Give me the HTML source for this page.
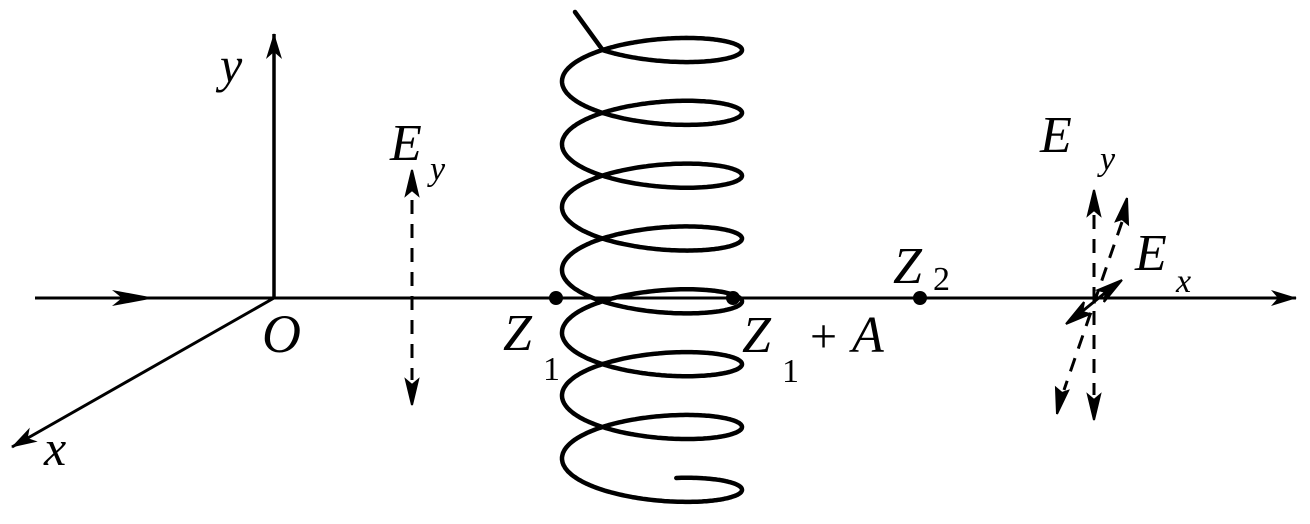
<!DOCTYPE html>
<html><head><meta charset="utf-8"><style>
html,body{margin:0;padding:0;background:#fff;}
svg{display:block}
text{font-family:"Liberation Serif",serif;font-style:italic;fill:#000}
</style></head><body>
<svg id="s" width="1310" height="524" viewBox="0 0 1310 524" xmlns="http://www.w3.org/2000/svg">
<defs>
<marker id="big" markerWidth="26" markerHeight="16" refX="25" refY="8" orient="auto" markerUnits="userSpaceOnUse" viewBox="0 0 26 16"><path d="M0,0 L26,8 L0,16 L7,8 Z" fill="#000"/></marker>
</defs>
<line x1="35" y1="298" x2="1296" y2="298" stroke="#000" stroke-width="3" marker-end="url(#big)"/>
<path d="M112,290 L155,298 L112,306 L122,298 Z" fill="#000"/>
<line x1="274" y1="298" x2="274" y2="34" stroke="#000" stroke-width="3.5" marker-end="url(#big)"/>
<line x1="274" y1="298" x2="12" y2="447" stroke="#000" stroke-width="3" marker-end="url(#big)"/>
<text x="220" y="82" font-size="50">y</text>
<text x="262" y="352" font-size="54">O</text>
<text x="44" y="465" font-size="50">x</text>
<text x="390" y="160" font-size="52">E</text>
<text x="430" y="180" font-size="34">y</text>
<line x1="412" y1="200" x2="412" y2="380" stroke="#000" stroke-width="3" stroke-dasharray="14,10"/>
<path d="M412,170 L418,195 L412,190 L406,195 Z M412,405 L418,380 L412,385 L406,380 Z" fill="#000" stroke="#000" stroke-width="2"/>
<path id="helix" d="" fill="none" stroke="#000" stroke-width="4.5" stroke-linecap="round" stroke-linejoin="round"/>
<circle cx="556" cy="298" r="7"/>
<circle cx="733" cy="298" r="7"/>
<circle cx="920" cy="298" r="7"/>
<text x="503" y="350" font-size="52">Z</text>
<text x="543" y="380" font-size="34" style="font-style:normal">1</text>
<text x="742" y="352" font-size="52">Z</text>
<text x="782" y="382" font-size="34" style="font-style:normal">1</text>
<text x="810" y="352" font-size="48" style="font-style:normal">+</text>
<text x="852" y="352" font-size="52">A</text>
<text x="893" y="283" font-size="52">Z</text>
<text x="933" y="290" font-size="34" style="font-style:normal">2</text>
<text x="1040" y="152" font-size="52">E</text>
<text x="1100" y="170" font-size="34">y</text>
<line x1="1094" y1="215" x2="1094" y2="395" stroke="#000" stroke-width="3" stroke-dasharray="14,10"/>
<path d="M1094,190 L1100,215 L1094,210 L1088,215 Z M1094,420 L1100,395 L1094,400 L1088,395 Z" fill="#000" stroke="#000" stroke-width="2"/>
<line x1="1122" y1="222" x2="1064" y2="390" stroke="#000" stroke-width="3" stroke-dasharray="14,10"/>
<path d="M1127,198 L1128,224 L1122,219 L1116,221 Z M1057,414 L1056,388 L1062,393 L1068,391 Z" fill="#000" stroke="#000" stroke-width="2"/>
<line x1="1074" y1="318" x2="1116" y2="284" stroke="#000" stroke-width="3"/>
<path d="M1122,280 L1104,302 L1106,292 L1098,290 Z M1066,324 L1084,302 L1082,312 L1090,314 Z" fill="#000" stroke="#000" stroke-width="2"/>
<text x="1135" y="270" font-size="52">E</text>
<text x="1176" y="292" font-size="34">x</text>
</svg>
<script>
(function(){
var cx=652,a=90,c=10.0,b=25.8,y0=50;
var d="M575,12";
for(var t=-2.15;t<=6*2*Math.PI+Math.PI*2+1.3;t+=0.03){
 var x=cx+a*Math.cos(t);
 var y=y0+c*t-b*Math.sin(t);
 d+=" L"+x.toFixed(1)+","+y.toFixed(1);
}
document.getElementById("helix").setAttribute("d",d);
})();
</script>
</body></html>
